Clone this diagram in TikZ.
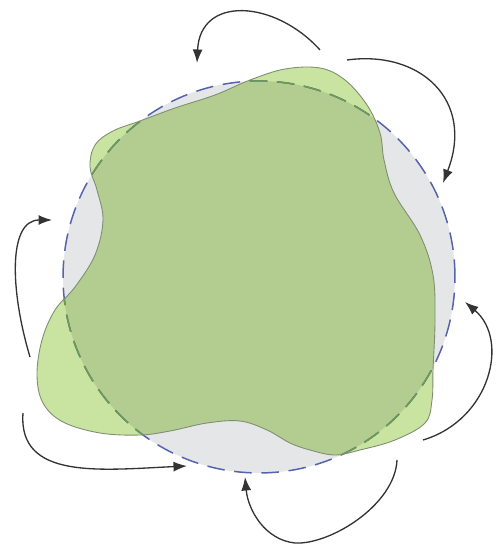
\documentclass[tikz,border=0pt]{standalone}
\usetikzlibrary{arrows.meta}
\definecolor{dskgray}{HTML}{E5E6E8}
\definecolor{dskblue}{HTML}{5563AC}
\definecolor{dskgreen}{HTML}{6E9A5E}
\definecolor{blbgreen}{HTML}{C8E4A0}
\definecolor{blbedge}{HTML}{7E8E72}
\definecolor{arwdark}{HTML}{333333}
\tikzset{
  disk/.style={fill=dskgray, draw=dskblue, line width=0.85pt, dash pattern=on 10pt off 5.5pt},
  rim/.style={draw=dskgreen, line width=0.85pt, dash pattern=on 10pt off 5.5pt},
  blob/.style={fill=blbgreen, blend mode=multiply},
  blobline/.style={draw=blbedge, line width=0.5pt},
  flow/.style={-{Latex[length=2.7mm, width=2mm]}, line width=0.75pt, arwdark},
}

\begin{document}
\begin{tikzpicture}[x=0.02cm, y=-0.02cm]
  \useasboundingbox (0,0) rectangle (500,546);

  % undeformed disk
  \coordinate (ctr) at (259,277);
  \path[disk] (ctr) circle[radius=3.92cm];

  % deformed shape
  \def\blobpath{plot[smooth cycle, tension=0.6] coordinates {
    (320,68) (345,80) (367,105) (380,133) (384,160) (394,193) (420,235)
    (433,275) (435,320) (433,370) (432,400) (425,423) (395,440) (360,450)
    (335,455) (310,450) (290,443) (267,430) (240,421) (207,423) (170,431)
    (140,435) (100,433) (63,422) (43,403) (37,375) (42,340) (55,310)
    (75,287) (95,255) (103,220) (97,190) (90,167) (95,145) (113,131)
    (140,121) (175,108) (215,95) (250,80) (285,69)}}
  \path[blob] \blobpath;
  \begin{scope}
    \clip \blobpath;
    \path[rim] (ctr) circle[radius=3.92cm];
  \end{scope}
  \path[blobline] \blobpath;

  % rotation arrows
  \draw[flow] (320,50) .. controls (275,0) and (200,-5) .. (197,63);
  \draw[flow] (347,60) .. controls (420,50) and (475,100) .. (443,183);
  \draw[flow] (423,440) .. controls (490,420) and (510,340) .. (465,302);
  \draw[flow] (397,460) .. controls (395,505) and (330,545) .. (295,543)
                        .. controls (265,540) and (248,510) .. (245,477);
  \draw[flow] (23,413) .. controls (18,480) and (100,470) .. (187,466);
  \draw[flow] (30,357) .. controls (10,290) and (8,220) .. (52,220);
\end{tikzpicture}
\end{document}
